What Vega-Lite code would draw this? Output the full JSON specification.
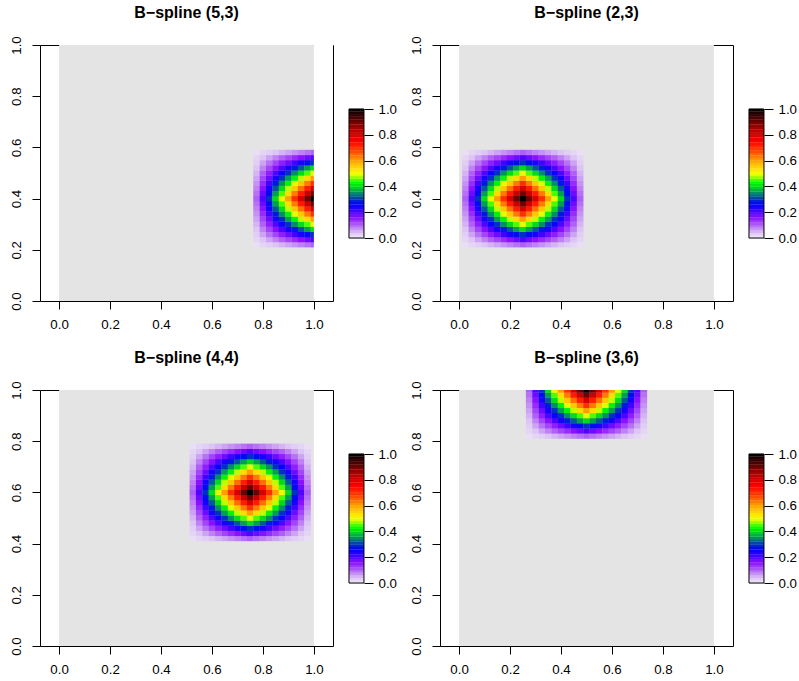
{
"$schema":"https://vega.github.io/schema/vega-lite/v6.json",
"padding":{"left":8,"top":4,"right":0,"bottom":0},
"config":{"font":"Liberation Sans","view":{"stroke":"black","strokeWidth":1},
"axis":{"grid":false,"domain":false,"tickColor":"black","labelColor":"black","labelFontSize":13.3,"labelFont":"Liberation Sans"},
"title":{"fontSize":16,"fontWeight":"bold","font":"Liberation Sans","color":"black","frame":"group","anchor":"middle","offset":15}},
"datasets":{
"bar":[{"v":0.01},{"v":0.03},{"v":0.05},{"v":0.07},{"v":0.09},{"v":0.11},{"v":0.13},{"v":0.15},{"v":0.17},{"v":0.19},{"v":0.21},{"v":0.23},{"v":0.25},{"v":0.27},{"v":0.29},{"v":0.31},{"v":0.33},{"v":0.35},{"v":0.37},{"v":0.39},{"v":0.41},{"v":0.43},{"v":0.45},{"v":0.47},{"v":0.49},{"v":0.51},{"v":0.53},{"v":0.55},{"v":0.57},{"v":0.59},{"v":0.61},{"v":0.63},{"v":0.65},{"v":0.67},{"v":0.69},{"v":0.71},{"v":0.73},{"v":0.75},{"v":0.77},{"v":0.79},{"v":0.81},{"v":0.83},{"v":0.85},{"v":0.87},{"v":0.89},{"v":0.91},{"v":0.93},{"v":0.95},{"v":0.97},{"v":0.99}],
"a":[
{"x":0.775,"y":0.22,"v":0.01},{"x":0.775,"y":0.24,"v":0.02},{"x":0.775,"y":0.26,"v":0.03},{"x":0.775,"y":0.28,"v":0.04},{"x":0.775,"y":0.3,"v":0.05},{"x":0.775,"y":0.32,"v":0.06},{"x":0.775,"y":0.34,"v":0.07},{"x":0.775,"y":0.36,"v":0.08},{"x":0.775,"y":0.38,"v":0.09},{"x":0.775,"y":0.4,"v":0.1},{"x":0.775,"y":0.42,"v":0.09},{"x":0.775,"y":0.44,"v":0.08},{"x":0.775,"y":0.46,"v":0.07},{"x":0.775,"y":0.48,"v":0.06},{"x":0.775,"y":0.5,"v":0.05},{"x":0.775,"y":0.52,"v":0.04},{"x":0.775,"y":0.54,"v":0.03},{"x":0.775,"y":0.56,"v":0.02},{"x":0.775,"y":0.58,"v":0.01},
{"x":0.8,"y":0.22,"v":0.02},{"x":0.8,"y":0.24,"v":0.04},{"x":0.8,"y":0.26,"v":0.06},{"x":0.8,"y":0.28,"v":0.08},{"x":0.8,"y":0.3,"v":0.1},{"x":0.8,"y":0.32,"v":0.12},{"x":0.8,"y":0.34,"v":0.14},{"x":0.8,"y":0.36,"v":0.16},{"x":0.8,"y":0.38,"v":0.18},{"x":0.8,"y":0.4,"v":0.2},{"x":0.8,"y":0.42,"v":0.18},{"x":0.8,"y":0.44,"v":0.16},{"x":0.8,"y":0.46,"v":0.14},{"x":0.8,"y":0.48,"v":0.12},{"x":0.8,"y":0.5,"v":0.1},{"x":0.8,"y":0.52,"v":0.08},{"x":0.8,"y":0.54,"v":0.06},{"x":0.8,"y":0.56,"v":0.04},{"x":0.8,"y":0.58,"v":0.02},
{"x":0.825,"y":0.22,"v":0.03},{"x":0.825,"y":0.24,"v":0.06},{"x":0.825,"y":0.26,"v":0.09},{"x":0.825,"y":0.28,"v":0.12},{"x":0.825,"y":0.3,"v":0.15},{"x":0.825,"y":0.32,"v":0.18},{"x":0.825,"y":0.34,"v":0.21},{"x":0.825,"y":0.36,"v":0.24},{"x":0.825,"y":0.38,"v":0.27},{"x":0.825,"y":0.4,"v":0.3},{"x":0.825,"y":0.42,"v":0.27},{"x":0.825,"y":0.44,"v":0.24},{"x":0.825,"y":0.46,"v":0.21},{"x":0.825,"y":0.48,"v":0.18},{"x":0.825,"y":0.5,"v":0.15},{"x":0.825,"y":0.52,"v":0.12},{"x":0.825,"y":0.54,"v":0.09},{"x":0.825,"y":0.56,"v":0.06},{"x":0.825,"y":0.58,"v":0.03},
{"x":0.85,"y":0.22,"v":0.04},{"x":0.85,"y":0.24,"v":0.08},{"x":0.85,"y":0.26,"v":0.12},{"x":0.85,"y":0.28,"v":0.16},{"x":0.85,"y":0.3,"v":0.2},{"x":0.85,"y":0.32,"v":0.24},{"x":0.85,"y":0.34,"v":0.28},{"x":0.85,"y":0.36,"v":0.32},{"x":0.85,"y":0.38,"v":0.36},{"x":0.85,"y":0.4,"v":0.4},{"x":0.85,"y":0.42,"v":0.36},{"x":0.85,"y":0.44,"v":0.32},{"x":0.85,"y":0.46,"v":0.28},{"x":0.85,"y":0.48,"v":0.24},{"x":0.85,"y":0.5,"v":0.2},{"x":0.85,"y":0.52,"v":0.16},{"x":0.85,"y":0.54,"v":0.12},{"x":0.85,"y":0.56,"v":0.08},{"x":0.85,"y":0.58,"v":0.04},
{"x":0.875,"y":0.22,"v":0.05},{"x":0.875,"y":0.24,"v":0.1},{"x":0.875,"y":0.26,"v":0.15},{"x":0.875,"y":0.28,"v":0.2},{"x":0.875,"y":0.3,"v":0.25},{"x":0.875,"y":0.32,"v":0.3},{"x":0.875,"y":0.34,"v":0.35},{"x":0.875,"y":0.36,"v":0.4},{"x":0.875,"y":0.38,"v":0.45},{"x":0.875,"y":0.4,"v":0.5},{"x":0.875,"y":0.42,"v":0.45},{"x":0.875,"y":0.44,"v":0.4},{"x":0.875,"y":0.46,"v":0.35},{"x":0.875,"y":0.48,"v":0.3},{"x":0.875,"y":0.5,"v":0.25},{"x":0.875,"y":0.52,"v":0.2},{"x":0.875,"y":0.54,"v":0.15},{"x":0.875,"y":0.56,"v":0.1},{"x":0.875,"y":0.58,"v":0.05},
{"x":0.9,"y":0.22,"v":0.06},{"x":0.9,"y":0.24,"v":0.12},{"x":0.9,"y":0.26,"v":0.18},{"x":0.9,"y":0.28,"v":0.24},{"x":0.9,"y":0.3,"v":0.3},{"x":0.9,"y":0.32,"v":0.36},{"x":0.9,"y":0.34,"v":0.42},{"x":0.9,"y":0.36,"v":0.48},{"x":0.9,"y":0.38,"v":0.54},{"x":0.9,"y":0.4,"v":0.6},{"x":0.9,"y":0.42,"v":0.54},{"x":0.9,"y":0.44,"v":0.48},{"x":0.9,"y":0.46,"v":0.42},{"x":0.9,"y":0.48,"v":0.36},{"x":0.9,"y":0.5,"v":0.3},{"x":0.9,"y":0.52,"v":0.24},{"x":0.9,"y":0.54,"v":0.18},{"x":0.9,"y":0.56,"v":0.12},{"x":0.9,"y":0.58,"v":0.06},
{"x":0.925,"y":0.22,"v":0.07},{"x":0.925,"y":0.24,"v":0.14},{"x":0.925,"y":0.26,"v":0.21},{"x":0.925,"y":0.28,"v":0.28},{"x":0.925,"y":0.3,"v":0.35},{"x":0.925,"y":0.32,"v":0.42},{"x":0.925,"y":0.34,"v":0.49},{"x":0.925,"y":0.36,"v":0.56},{"x":0.925,"y":0.38,"v":0.63},{"x":0.925,"y":0.4,"v":0.7},{"x":0.925,"y":0.42,"v":0.63},{"x":0.925,"y":0.44,"v":0.56},{"x":0.925,"y":0.46,"v":0.49},{"x":0.925,"y":0.48,"v":0.42},{"x":0.925,"y":0.5,"v":0.35},{"x":0.925,"y":0.52,"v":0.28},{"x":0.925,"y":0.54,"v":0.21},{"x":0.925,"y":0.56,"v":0.14},{"x":0.925,"y":0.58,"v":0.07},
{"x":0.95,"y":0.22,"v":0.08},{"x":0.95,"y":0.24,"v":0.16},{"x":0.95,"y":0.26,"v":0.24},{"x":0.95,"y":0.28,"v":0.32},{"x":0.95,"y":0.3,"v":0.4},{"x":0.95,"y":0.32,"v":0.48},{"x":0.95,"y":0.34,"v":0.56},{"x":0.95,"y":0.36,"v":0.64},{"x":0.95,"y":0.38,"v":0.72},{"x":0.95,"y":0.4,"v":0.8},{"x":0.95,"y":0.42,"v":0.72},{"x":0.95,"y":0.44,"v":0.64},{"x":0.95,"y":0.46,"v":0.56},{"x":0.95,"y":0.48,"v":0.48},{"x":0.95,"y":0.5,"v":0.4},{"x":0.95,"y":0.52,"v":0.32},{"x":0.95,"y":0.54,"v":0.24},{"x":0.95,"y":0.56,"v":0.16},{"x":0.95,"y":0.58,"v":0.08},
{"x":0.975,"y":0.22,"v":0.09},{"x":0.975,"y":0.24,"v":0.18},{"x":0.975,"y":0.26,"v":0.27},{"x":0.975,"y":0.28,"v":0.36},{"x":0.975,"y":0.3,"v":0.45},{"x":0.975,"y":0.32,"v":0.54},{"x":0.975,"y":0.34,"v":0.63},{"x":0.975,"y":0.36,"v":0.72},{"x":0.975,"y":0.38,"v":0.81},{"x":0.975,"y":0.4,"v":0.9},{"x":0.975,"y":0.42,"v":0.81},{"x":0.975,"y":0.44,"v":0.72},{"x":0.975,"y":0.46,"v":0.63},{"x":0.975,"y":0.48,"v":0.54},{"x":0.975,"y":0.5,"v":0.45},{"x":0.975,"y":0.52,"v":0.36},{"x":0.975,"y":0.54,"v":0.27},{"x":0.975,"y":0.56,"v":0.18},{"x":0.975,"y":0.58,"v":0.09},
{"x":1,"y":0.22,"v":0.1},{"x":1,"y":0.24,"v":0.2},{"x":1,"y":0.26,"v":0.3},{"x":1,"y":0.28,"v":0.4},{"x":1,"y":0.3,"v":0.5},{"x":1,"y":0.32,"v":0.6},{"x":1,"y":0.34,"v":0.7},{"x":1,"y":0.36,"v":0.8},{"x":1,"y":0.38,"v":0.9},{"x":1,"y":0.4,"v":1},{"x":1,"y":0.42,"v":0.9},{"x":1,"y":0.44,"v":0.8},{"x":1,"y":0.46,"v":0.7},{"x":1,"y":0.48,"v":0.6},{"x":1,"y":0.5,"v":0.5},{"x":1,"y":0.52,"v":0.4},{"x":1,"y":0.54,"v":0.3},{"x":1,"y":0.56,"v":0.2},{"x":1,"y":0.58,"v":0.1}
],
"b":[
{"x":0.025,"y":0.22,"v":0.01},{"x":0.025,"y":0.24,"v":0.02},{"x":0.025,"y":0.26,"v":0.03},{"x":0.025,"y":0.28,"v":0.04},{"x":0.025,"y":0.3,"v":0.05},{"x":0.025,"y":0.32,"v":0.06},{"x":0.025,"y":0.34,"v":0.07},{"x":0.025,"y":0.36,"v":0.08},{"x":0.025,"y":0.38,"v":0.09},{"x":0.025,"y":0.4,"v":0.1},{"x":0.025,"y":0.42,"v":0.09},{"x":0.025,"y":0.44,"v":0.08},{"x":0.025,"y":0.46,"v":0.07},{"x":0.025,"y":0.48,"v":0.06},{"x":0.025,"y":0.5,"v":0.05},{"x":0.025,"y":0.52,"v":0.04},{"x":0.025,"y":0.54,"v":0.03},{"x":0.025,"y":0.56,"v":0.02},{"x":0.025,"y":0.58,"v":0.01},
{"x":0.05,"y":0.22,"v":0.02},{"x":0.05,"y":0.24,"v":0.04},{"x":0.05,"y":0.26,"v":0.06},{"x":0.05,"y":0.28,"v":0.08},{"x":0.05,"y":0.3,"v":0.1},{"x":0.05,"y":0.32,"v":0.12},{"x":0.05,"y":0.34,"v":0.14},{"x":0.05,"y":0.36,"v":0.16},{"x":0.05,"y":0.38,"v":0.18},{"x":0.05,"y":0.4,"v":0.2},{"x":0.05,"y":0.42,"v":0.18},{"x":0.05,"y":0.44,"v":0.16},{"x":0.05,"y":0.46,"v":0.14},{"x":0.05,"y":0.48,"v":0.12},{"x":0.05,"y":0.5,"v":0.1},{"x":0.05,"y":0.52,"v":0.08},{"x":0.05,"y":0.54,"v":0.06},{"x":0.05,"y":0.56,"v":0.04},{"x":0.05,"y":0.58,"v":0.02},
{"x":0.075,"y":0.22,"v":0.03},{"x":0.075,"y":0.24,"v":0.06},{"x":0.075,"y":0.26,"v":0.09},{"x":0.075,"y":0.28,"v":0.12},{"x":0.075,"y":0.3,"v":0.15},{"x":0.075,"y":0.32,"v":0.18},{"x":0.075,"y":0.34,"v":0.21},{"x":0.075,"y":0.36,"v":0.24},{"x":0.075,"y":0.38,"v":0.27},{"x":0.075,"y":0.4,"v":0.3},{"x":0.075,"y":0.42,"v":0.27},{"x":0.075,"y":0.44,"v":0.24},{"x":0.075,"y":0.46,"v":0.21},{"x":0.075,"y":0.48,"v":0.18},{"x":0.075,"y":0.5,"v":0.15},{"x":0.075,"y":0.52,"v":0.12},{"x":0.075,"y":0.54,"v":0.09},{"x":0.075,"y":0.56,"v":0.06},{"x":0.075,"y":0.58,"v":0.03},
{"x":0.1,"y":0.22,"v":0.04},{"x":0.1,"y":0.24,"v":0.08},{"x":0.1,"y":0.26,"v":0.12},{"x":0.1,"y":0.28,"v":0.16},{"x":0.1,"y":0.3,"v":0.2},{"x":0.1,"y":0.32,"v":0.24},{"x":0.1,"y":0.34,"v":0.28},{"x":0.1,"y":0.36,"v":0.32},{"x":0.1,"y":0.38,"v":0.36},{"x":0.1,"y":0.4,"v":0.4},{"x":0.1,"y":0.42,"v":0.36},{"x":0.1,"y":0.44,"v":0.32},{"x":0.1,"y":0.46,"v":0.28},{"x":0.1,"y":0.48,"v":0.24},{"x":0.1,"y":0.5,"v":0.2},{"x":0.1,"y":0.52,"v":0.16},{"x":0.1,"y":0.54,"v":0.12},{"x":0.1,"y":0.56,"v":0.08},{"x":0.1,"y":0.58,"v":0.04},
{"x":0.125,"y":0.22,"v":0.05},{"x":0.125,"y":0.24,"v":0.1},{"x":0.125,"y":0.26,"v":0.15},{"x":0.125,"y":0.28,"v":0.2},{"x":0.125,"y":0.3,"v":0.25},{"x":0.125,"y":0.32,"v":0.3},{"x":0.125,"y":0.34,"v":0.35},{"x":0.125,"y":0.36,"v":0.4},{"x":0.125,"y":0.38,"v":0.45},{"x":0.125,"y":0.4,"v":0.5},{"x":0.125,"y":0.42,"v":0.45},{"x":0.125,"y":0.44,"v":0.4},{"x":0.125,"y":0.46,"v":0.35},{"x":0.125,"y":0.48,"v":0.3},{"x":0.125,"y":0.5,"v":0.25},{"x":0.125,"y":0.52,"v":0.2},{"x":0.125,"y":0.54,"v":0.15},{"x":0.125,"y":0.56,"v":0.1},{"x":0.125,"y":0.58,"v":0.05},
{"x":0.15,"y":0.22,"v":0.06},{"x":0.15,"y":0.24,"v":0.12},{"x":0.15,"y":0.26,"v":0.18},{"x":0.15,"y":0.28,"v":0.24},{"x":0.15,"y":0.3,"v":0.3},{"x":0.15,"y":0.32,"v":0.36},{"x":0.15,"y":0.34,"v":0.42},{"x":0.15,"y":0.36,"v":0.48},{"x":0.15,"y":0.38,"v":0.54},{"x":0.15,"y":0.4,"v":0.6},{"x":0.15,"y":0.42,"v":0.54},{"x":0.15,"y":0.44,"v":0.48},{"x":0.15,"y":0.46,"v":0.42},{"x":0.15,"y":0.48,"v":0.36},{"x":0.15,"y":0.5,"v":0.3},{"x":0.15,"y":0.52,"v":0.24},{"x":0.15,"y":0.54,"v":0.18},{"x":0.15,"y":0.56,"v":0.12},{"x":0.15,"y":0.58,"v":0.06},
{"x":0.175,"y":0.22,"v":0.07},{"x":0.175,"y":0.24,"v":0.14},{"x":0.175,"y":0.26,"v":0.21},{"x":0.175,"y":0.28,"v":0.28},{"x":0.175,"y":0.3,"v":0.35},{"x":0.175,"y":0.32,"v":0.42},{"x":0.175,"y":0.34,"v":0.49},{"x":0.175,"y":0.36,"v":0.56},{"x":0.175,"y":0.38,"v":0.63},{"x":0.175,"y":0.4,"v":0.7},{"x":0.175,"y":0.42,"v":0.63},{"x":0.175,"y":0.44,"v":0.56},{"x":0.175,"y":0.46,"v":0.49},{"x":0.175,"y":0.48,"v":0.42},{"x":0.175,"y":0.5,"v":0.35},{"x":0.175,"y":0.52,"v":0.28},{"x":0.175,"y":0.54,"v":0.21},{"x":0.175,"y":0.56,"v":0.14},{"x":0.175,"y":0.58,"v":0.07},
{"x":0.2,"y":0.22,"v":0.08},{"x":0.2,"y":0.24,"v":0.16},{"x":0.2,"y":0.26,"v":0.24},{"x":0.2,"y":0.28,"v":0.32},{"x":0.2,"y":0.3,"v":0.4},{"x":0.2,"y":0.32,"v":0.48},{"x":0.2,"y":0.34,"v":0.56},{"x":0.2,"y":0.36,"v":0.64},{"x":0.2,"y":0.38,"v":0.72},{"x":0.2,"y":0.4,"v":0.8},{"x":0.2,"y":0.42,"v":0.72},{"x":0.2,"y":0.44,"v":0.64},{"x":0.2,"y":0.46,"v":0.56},{"x":0.2,"y":0.48,"v":0.48},{"x":0.2,"y":0.5,"v":0.4},{"x":0.2,"y":0.52,"v":0.32},{"x":0.2,"y":0.54,"v":0.24},{"x":0.2,"y":0.56,"v":0.16},{"x":0.2,"y":0.58,"v":0.08},
{"x":0.225,"y":0.22,"v":0.09},{"x":0.225,"y":0.24,"v":0.18},{"x":0.225,"y":0.26,"v":0.27},{"x":0.225,"y":0.28,"v":0.36},{"x":0.225,"y":0.3,"v":0.45},{"x":0.225,"y":0.32,"v":0.54},{"x":0.225,"y":0.34,"v":0.63},{"x":0.225,"y":0.36,"v":0.72},{"x":0.225,"y":0.38,"v":0.81},{"x":0.225,"y":0.4,"v":0.9},{"x":0.225,"y":0.42,"v":0.81},{"x":0.225,"y":0.44,"v":0.72},{"x":0.225,"y":0.46,"v":0.63},{"x":0.225,"y":0.48,"v":0.54},{"x":0.225,"y":0.5,"v":0.45},{"x":0.225,"y":0.52,"v":0.36},{"x":0.225,"y":0.54,"v":0.27},{"x":0.225,"y":0.56,"v":0.18},{"x":0.225,"y":0.58,"v":0.09},
{"x":0.25,"y":0.22,"v":0.1},{"x":0.25,"y":0.24,"v":0.2},{"x":0.25,"y":0.26,"v":0.3},{"x":0.25,"y":0.28,"v":0.4},{"x":0.25,"y":0.3,"v":0.5},{"x":0.25,"y":0.32,"v":0.6},{"x":0.25,"y":0.34,"v":0.7},{"x":0.25,"y":0.36,"v":0.8},{"x":0.25,"y":0.38,"v":0.9},{"x":0.25,"y":0.4,"v":1},{"x":0.25,"y":0.42,"v":0.9},{"x":0.25,"y":0.44,"v":0.8},{"x":0.25,"y":0.46,"v":0.7},{"x":0.25,"y":0.48,"v":0.6},{"x":0.25,"y":0.5,"v":0.5},{"x":0.25,"y":0.52,"v":0.4},{"x":0.25,"y":0.54,"v":0.3},{"x":0.25,"y":0.56,"v":0.2},{"x":0.25,"y":0.58,"v":0.1},
{"x":0.275,"y":0.22,"v":0.09},{"x":0.275,"y":0.24,"v":0.18},{"x":0.275,"y":0.26,"v":0.27},{"x":0.275,"y":0.28,"v":0.36},{"x":0.275,"y":0.3,"v":0.45},{"x":0.275,"y":0.32,"v":0.54},{"x":0.275,"y":0.34,"v":0.63},{"x":0.275,"y":0.36,"v":0.72},{"x":0.275,"y":0.38,"v":0.81},{"x":0.275,"y":0.4,"v":0.9},{"x":0.275,"y":0.42,"v":0.81},{"x":0.275,"y":0.44,"v":0.72},{"x":0.275,"y":0.46,"v":0.63},{"x":0.275,"y":0.48,"v":0.54},{"x":0.275,"y":0.5,"v":0.45},{"x":0.275,"y":0.52,"v":0.36},{"x":0.275,"y":0.54,"v":0.27},{"x":0.275,"y":0.56,"v":0.18},{"x":0.275,"y":0.58,"v":0.09},
{"x":0.3,"y":0.22,"v":0.08},{"x":0.3,"y":0.24,"v":0.16},{"x":0.3,"y":0.26,"v":0.24},{"x":0.3,"y":0.28,"v":0.32},{"x":0.3,"y":0.3,"v":0.4},{"x":0.3,"y":0.32,"v":0.48},{"x":0.3,"y":0.34,"v":0.56},{"x":0.3,"y":0.36,"v":0.64},{"x":0.3,"y":0.38,"v":0.72},{"x":0.3,"y":0.4,"v":0.8},{"x":0.3,"y":0.42,"v":0.72},{"x":0.3,"y":0.44,"v":0.64},{"x":0.3,"y":0.46,"v":0.56},{"x":0.3,"y":0.48,"v":0.48},{"x":0.3,"y":0.5,"v":0.4},{"x":0.3,"y":0.52,"v":0.32},{"x":0.3,"y":0.54,"v":0.24},{"x":0.3,"y":0.56,"v":0.16},{"x":0.3,"y":0.58,"v":0.08},
{"x":0.325,"y":0.22,"v":0.07},{"x":0.325,"y":0.24,"v":0.14},{"x":0.325,"y":0.26,"v":0.21},{"x":0.325,"y":0.28,"v":0.28},{"x":0.325,"y":0.3,"v":0.35},{"x":0.325,"y":0.32,"v":0.42},{"x":0.325,"y":0.34,"v":0.49},{"x":0.325,"y":0.36,"v":0.56},{"x":0.325,"y":0.38,"v":0.63},{"x":0.325,"y":0.4,"v":0.7},{"x":0.325,"y":0.42,"v":0.63},{"x":0.325,"y":0.44,"v":0.56},{"x":0.325,"y":0.46,"v":0.49},{"x":0.325,"y":0.48,"v":0.42},{"x":0.325,"y":0.5,"v":0.35},{"x":0.325,"y":0.52,"v":0.28},{"x":0.325,"y":0.54,"v":0.21},{"x":0.325,"y":0.56,"v":0.14},{"x":0.325,"y":0.58,"v":0.07},
{"x":0.35,"y":0.22,"v":0.06},{"x":0.35,"y":0.24,"v":0.12},{"x":0.35,"y":0.26,"v":0.18},{"x":0.35,"y":0.28,"v":0.24},{"x":0.35,"y":0.3,"v":0.3},{"x":0.35,"y":0.32,"v":0.36},{"x":0.35,"y":0.34,"v":0.42},{"x":0.35,"y":0.36,"v":0.48},{"x":0.35,"y":0.38,"v":0.54},{"x":0.35,"y":0.4,"v":0.6},{"x":0.35,"y":0.42,"v":0.54},{"x":0.35,"y":0.44,"v":0.48},{"x":0.35,"y":0.46,"v":0.42},{"x":0.35,"y":0.48,"v":0.36},{"x":0.35,"y":0.5,"v":0.3},{"x":0.35,"y":0.52,"v":0.24},{"x":0.35,"y":0.54,"v":0.18},{"x":0.35,"y":0.56,"v":0.12},{"x":0.35,"y":0.58,"v":0.06},
{"x":0.375,"y":0.22,"v":0.05},{"x":0.375,"y":0.24,"v":0.1},{"x":0.375,"y":0.26,"v":0.15},{"x":0.375,"y":0.28,"v":0.2},{"x":0.375,"y":0.3,"v":0.25},{"x":0.375,"y":0.32,"v":0.3},{"x":0.375,"y":0.34,"v":0.35},{"x":0.375,"y":0.36,"v":0.4},{"x":0.375,"y":0.38,"v":0.45},{"x":0.375,"y":0.4,"v":0.5},{"x":0.375,"y":0.42,"v":0.45},{"x":0.375,"y":0.44,"v":0.4},{"x":0.375,"y":0.46,"v":0.35},{"x":0.375,"y":0.48,"v":0.3},{"x":0.375,"y":0.5,"v":0.25},{"x":0.375,"y":0.52,"v":0.2},{"x":0.375,"y":0.54,"v":0.15},{"x":0.375,"y":0.56,"v":0.1},{"x":0.375,"y":0.58,"v":0.05},
{"x":0.4,"y":0.22,"v":0.04},{"x":0.4,"y":0.24,"v":0.08},{"x":0.4,"y":0.26,"v":0.12},{"x":0.4,"y":0.28,"v":0.16},{"x":0.4,"y":0.3,"v":0.2},{"x":0.4,"y":0.32,"v":0.24},{"x":0.4,"y":0.34,"v":0.28},{"x":0.4,"y":0.36,"v":0.32},{"x":0.4,"y":0.38,"v":0.36},{"x":0.4,"y":0.4,"v":0.4},{"x":0.4,"y":0.42,"v":0.36},{"x":0.4,"y":0.44,"v":0.32},{"x":0.4,"y":0.46,"v":0.28},{"x":0.4,"y":0.48,"v":0.24},{"x":0.4,"y":0.5,"v":0.2},{"x":0.4,"y":0.52,"v":0.16},{"x":0.4,"y":0.54,"v":0.12},{"x":0.4,"y":0.56,"v":0.08},{"x":0.4,"y":0.58,"v":0.04},
{"x":0.425,"y":0.22,"v":0.03},{"x":0.425,"y":0.24,"v":0.06},{"x":0.425,"y":0.26,"v":0.09},{"x":0.425,"y":0.28,"v":0.12},{"x":0.425,"y":0.3,"v":0.15},{"x":0.425,"y":0.32,"v":0.18},{"x":0.425,"y":0.34,"v":0.21},{"x":0.425,"y":0.36,"v":0.24},{"x":0.425,"y":0.38,"v":0.27},{"x":0.425,"y":0.4,"v":0.3},{"x":0.425,"y":0.42,"v":0.27},{"x":0.425,"y":0.44,"v":0.24},{"x":0.425,"y":0.46,"v":0.21},{"x":0.425,"y":0.48,"v":0.18},{"x":0.425,"y":0.5,"v":0.15},{"x":0.425,"y":0.52,"v":0.12},{"x":0.425,"y":0.54,"v":0.09},{"x":0.425,"y":0.56,"v":0.06},{"x":0.425,"y":0.58,"v":0.03},
{"x":0.45,"y":0.22,"v":0.02},{"x":0.45,"y":0.24,"v":0.04},{"x":0.45,"y":0.26,"v":0.06},{"x":0.45,"y":0.28,"v":0.08},{"x":0.45,"y":0.3,"v":0.1},{"x":0.45,"y":0.32,"v":0.12},{"x":0.45,"y":0.34,"v":0.14},{"x":0.45,"y":0.36,"v":0.16},{"x":0.45,"y":0.38,"v":0.18},{"x":0.45,"y":0.4,"v":0.2},{"x":0.45,"y":0.42,"v":0.18},{"x":0.45,"y":0.44,"v":0.16},{"x":0.45,"y":0.46,"v":0.14},{"x":0.45,"y":0.48,"v":0.12},{"x":0.45,"y":0.5,"v":0.1},{"x":0.45,"y":0.52,"v":0.08},{"x":0.45,"y":0.54,"v":0.06},{"x":0.45,"y":0.56,"v":0.04},{"x":0.45,"y":0.58,"v":0.02},
{"x":0.475,"y":0.22,"v":0.01},{"x":0.475,"y":0.24,"v":0.02},{"x":0.475,"y":0.26,"v":0.03},{"x":0.475,"y":0.28,"v":0.04},{"x":0.475,"y":0.3,"v":0.05},{"x":0.475,"y":0.32,"v":0.06},{"x":0.475,"y":0.34,"v":0.07},{"x":0.475,"y":0.36,"v":0.08},{"x":0.475,"y":0.38,"v":0.09},{"x":0.475,"y":0.4,"v":0.1},{"x":0.475,"y":0.42,"v":0.09},{"x":0.475,"y":0.44,"v":0.08},{"x":0.475,"y":0.46,"v":0.07},{"x":0.475,"y":0.48,"v":0.06},{"x":0.475,"y":0.5,"v":0.05},{"x":0.475,"y":0.52,"v":0.04},{"x":0.475,"y":0.54,"v":0.03},{"x":0.475,"y":0.56,"v":0.02},{"x":0.475,"y":0.58,"v":0.01}
],
"c":[
{"x":0.525,"y":0.42,"v":0.01},{"x":0.525,"y":0.44,"v":0.02},{"x":0.525,"y":0.46,"v":0.03},{"x":0.525,"y":0.48,"v":0.04},{"x":0.525,"y":0.5,"v":0.05},{"x":0.525,"y":0.52,"v":0.06},{"x":0.525,"y":0.54,"v":0.07},{"x":0.525,"y":0.56,"v":0.08},{"x":0.525,"y":0.58,"v":0.09},{"x":0.525,"y":0.6,"v":0.1},{"x":0.525,"y":0.62,"v":0.09},{"x":0.525,"y":0.64,"v":0.08},{"x":0.525,"y":0.66,"v":0.07},{"x":0.525,"y":0.68,"v":0.06},{"x":0.525,"y":0.7,"v":0.05},{"x":0.525,"y":0.72,"v":0.04},{"x":0.525,"y":0.74,"v":0.03},{"x":0.525,"y":0.76,"v":0.02},{"x":0.525,"y":0.78,"v":0.01},
{"x":0.55,"y":0.42,"v":0.02},{"x":0.55,"y":0.44,"v":0.04},{"x":0.55,"y":0.46,"v":0.06},{"x":0.55,"y":0.48,"v":0.08},{"x":0.55,"y":0.5,"v":0.1},{"x":0.55,"y":0.52,"v":0.12},{"x":0.55,"y":0.54,"v":0.14},{"x":0.55,"y":0.56,"v":0.16},{"x":0.55,"y":0.58,"v":0.18},{"x":0.55,"y":0.6,"v":0.2},{"x":0.55,"y":0.62,"v":0.18},{"x":0.55,"y":0.64,"v":0.16},{"x":0.55,"y":0.66,"v":0.14},{"x":0.55,"y":0.68,"v":0.12},{"x":0.55,"y":0.7,"v":0.1},{"x":0.55,"y":0.72,"v":0.08},{"x":0.55,"y":0.74,"v":0.06},{"x":0.55,"y":0.76,"v":0.04},{"x":0.55,"y":0.78,"v":0.02},
{"x":0.575,"y":0.42,"v":0.03},{"x":0.575,"y":0.44,"v":0.06},{"x":0.575,"y":0.46,"v":0.09},{"x":0.575,"y":0.48,"v":0.12},{"x":0.575,"y":0.5,"v":0.15},{"x":0.575,"y":0.52,"v":0.18},{"x":0.575,"y":0.54,"v":0.21},{"x":0.575,"y":0.56,"v":0.24},{"x":0.575,"y":0.58,"v":0.27},{"x":0.575,"y":0.6,"v":0.3},{"x":0.575,"y":0.62,"v":0.27},{"x":0.575,"y":0.64,"v":0.24},{"x":0.575,"y":0.66,"v":0.21},{"x":0.575,"y":0.68,"v":0.18},{"x":0.575,"y":0.7,"v":0.15},{"x":0.575,"y":0.72,"v":0.12},{"x":0.575,"y":0.74,"v":0.09},{"x":0.575,"y":0.76,"v":0.06},{"x":0.575,"y":0.78,"v":0.03},
{"x":0.6,"y":0.42,"v":0.04},{"x":0.6,"y":0.44,"v":0.08},{"x":0.6,"y":0.46,"v":0.12},{"x":0.6,"y":0.48,"v":0.16},{"x":0.6,"y":0.5,"v":0.2},{"x":0.6,"y":0.52,"v":0.24},{"x":0.6,"y":0.54,"v":0.28},{"x":0.6,"y":0.56,"v":0.32},{"x":0.6,"y":0.58,"v":0.36},{"x":0.6,"y":0.6,"v":0.4},{"x":0.6,"y":0.62,"v":0.36},{"x":0.6,"y":0.64,"v":0.32},{"x":0.6,"y":0.66,"v":0.28},{"x":0.6,"y":0.68,"v":0.24},{"x":0.6,"y":0.7,"v":0.2},{"x":0.6,"y":0.72,"v":0.16},{"x":0.6,"y":0.74,"v":0.12},{"x":0.6,"y":0.76,"v":0.08},{"x":0.6,"y":0.78,"v":0.04},
{"x":0.625,"y":0.42,"v":0.05},{"x":0.625,"y":0.44,"v":0.1},{"x":0.625,"y":0.46,"v":0.15},{"x":0.625,"y":0.48,"v":0.2},{"x":0.625,"y":0.5,"v":0.25},{"x":0.625,"y":0.52,"v":0.3},{"x":0.625,"y":0.54,"v":0.35},{"x":0.625,"y":0.56,"v":0.4},{"x":0.625,"y":0.58,"v":0.45},{"x":0.625,"y":0.6,"v":0.5},{"x":0.625,"y":0.62,"v":0.45},{"x":0.625,"y":0.64,"v":0.4},{"x":0.625,"y":0.66,"v":0.35},{"x":0.625,"y":0.68,"v":0.3},{"x":0.625,"y":0.7,"v":0.25},{"x":0.625,"y":0.72,"v":0.2},{"x":0.625,"y":0.74,"v":0.15},{"x":0.625,"y":0.76,"v":0.1},{"x":0.625,"y":0.78,"v":0.05},
{"x":0.65,"y":0.42,"v":0.06},{"x":0.65,"y":0.44,"v":0.12},{"x":0.65,"y":0.46,"v":0.18},{"x":0.65,"y":0.48,"v":0.24},{"x":0.65,"y":0.5,"v":0.3},{"x":0.65,"y":0.52,"v":0.36},{"x":0.65,"y":0.54,"v":0.42},{"x":0.65,"y":0.56,"v":0.48},{"x":0.65,"y":0.58,"v":0.54},{"x":0.65,"y":0.6,"v":0.6},{"x":0.65,"y":0.62,"v":0.54},{"x":0.65,"y":0.64,"v":0.48},{"x":0.65,"y":0.66,"v":0.42},{"x":0.65,"y":0.68,"v":0.36},{"x":0.65,"y":0.7,"v":0.3},{"x":0.65,"y":0.72,"v":0.24},{"x":0.65,"y":0.74,"v":0.18},{"x":0.65,"y":0.76,"v":0.12},{"x":0.65,"y":0.78,"v":0.06},
{"x":0.675,"y":0.42,"v":0.07},{"x":0.675,"y":0.44,"v":0.14},{"x":0.675,"y":0.46,"v":0.21},{"x":0.675,"y":0.48,"v":0.28},{"x":0.675,"y":0.5,"v":0.35},{"x":0.675,"y":0.52,"v":0.42},{"x":0.675,"y":0.54,"v":0.49},{"x":0.675,"y":0.56,"v":0.56},{"x":0.675,"y":0.58,"v":0.63},{"x":0.675,"y":0.6,"v":0.7},{"x":0.675,"y":0.62,"v":0.63},{"x":0.675,"y":0.64,"v":0.56},{"x":0.675,"y":0.66,"v":0.49},{"x":0.675,"y":0.68,"v":0.42},{"x":0.675,"y":0.7,"v":0.35},{"x":0.675,"y":0.72,"v":0.28},{"x":0.675,"y":0.74,"v":0.21},{"x":0.675,"y":0.76,"v":0.14},{"x":0.675,"y":0.78,"v":0.07},
{"x":0.7,"y":0.42,"v":0.08},{"x":0.7,"y":0.44,"v":0.16},{"x":0.7,"y":0.46,"v":0.24},{"x":0.7,"y":0.48,"v":0.32},{"x":0.7,"y":0.5,"v":0.4},{"x":0.7,"y":0.52,"v":0.48},{"x":0.7,"y":0.54,"v":0.56},{"x":0.7,"y":0.56,"v":0.64},{"x":0.7,"y":0.58,"v":0.72},{"x":0.7,"y":0.6,"v":0.8},{"x":0.7,"y":0.62,"v":0.72},{"x":0.7,"y":0.64,"v":0.64},{"x":0.7,"y":0.66,"v":0.56},{"x":0.7,"y":0.68,"v":0.48},{"x":0.7,"y":0.7,"v":0.4},{"x":0.7,"y":0.72,"v":0.32},{"x":0.7,"y":0.74,"v":0.24},{"x":0.7,"y":0.76,"v":0.16},{"x":0.7,"y":0.78,"v":0.08},
{"x":0.725,"y":0.42,"v":0.09},{"x":0.725,"y":0.44,"v":0.18},{"x":0.725,"y":0.46,"v":0.27},{"x":0.725,"y":0.48,"v":0.36},{"x":0.725,"y":0.5,"v":0.45},{"x":0.725,"y":0.52,"v":0.54},{"x":0.725,"y":0.54,"v":0.63},{"x":0.725,"y":0.56,"v":0.72},{"x":0.725,"y":0.58,"v":0.81},{"x":0.725,"y":0.6,"v":0.9},{"x":0.725,"y":0.62,"v":0.81},{"x":0.725,"y":0.64,"v":0.72},{"x":0.725,"y":0.66,"v":0.63},{"x":0.725,"y":0.68,"v":0.54},{"x":0.725,"y":0.7,"v":0.45},{"x":0.725,"y":0.72,"v":0.36},{"x":0.725,"y":0.74,"v":0.27},{"x":0.725,"y":0.76,"v":0.18},{"x":0.725,"y":0.78,"v":0.09},
{"x":0.75,"y":0.42,"v":0.1},{"x":0.75,"y":0.44,"v":0.2},{"x":0.75,"y":0.46,"v":0.3},{"x":0.75,"y":0.48,"v":0.4},{"x":0.75,"y":0.5,"v":0.5},{"x":0.75,"y":0.52,"v":0.6},{"x":0.75,"y":0.54,"v":0.7},{"x":0.75,"y":0.56,"v":0.8},{"x":0.75,"y":0.58,"v":0.9},{"x":0.75,"y":0.6,"v":1},{"x":0.75,"y":0.62,"v":0.9},{"x":0.75,"y":0.64,"v":0.8},{"x":0.75,"y":0.66,"v":0.7},{"x":0.75,"y":0.68,"v":0.6},{"x":0.75,"y":0.7,"v":0.5},{"x":0.75,"y":0.72,"v":0.4},{"x":0.75,"y":0.74,"v":0.3},{"x":0.75,"y":0.76,"v":0.2},{"x":0.75,"y":0.78,"v":0.1},
{"x":0.775,"y":0.42,"v":0.09},{"x":0.775,"y":0.44,"v":0.18},{"x":0.775,"y":0.46,"v":0.27},{"x":0.775,"y":0.48,"v":0.36},{"x":0.775,"y":0.5,"v":0.45},{"x":0.775,"y":0.52,"v":0.54},{"x":0.775,"y":0.54,"v":0.63},{"x":0.775,"y":0.56,"v":0.72},{"x":0.775,"y":0.58,"v":0.81},{"x":0.775,"y":0.6,"v":0.9},{"x":0.775,"y":0.62,"v":0.81},{"x":0.775,"y":0.64,"v":0.72},{"x":0.775,"y":0.66,"v":0.63},{"x":0.775,"y":0.68,"v":0.54},{"x":0.775,"y":0.7,"v":0.45},{"x":0.775,"y":0.72,"v":0.36},{"x":0.775,"y":0.74,"v":0.27},{"x":0.775,"y":0.76,"v":0.18},{"x":0.775,"y":0.78,"v":0.09},
{"x":0.8,"y":0.42,"v":0.08},{"x":0.8,"y":0.44,"v":0.16},{"x":0.8,"y":0.46,"v":0.24},{"x":0.8,"y":0.48,"v":0.32},{"x":0.8,"y":0.5,"v":0.4},{"x":0.8,"y":0.52,"v":0.48},{"x":0.8,"y":0.54,"v":0.56},{"x":0.8,"y":0.56,"v":0.64},{"x":0.8,"y":0.58,"v":0.72},{"x":0.8,"y":0.6,"v":0.8},{"x":0.8,"y":0.62,"v":0.72},{"x":0.8,"y":0.64,"v":0.64},{"x":0.8,"y":0.66,"v":0.56},{"x":0.8,"y":0.68,"v":0.48},{"x":0.8,"y":0.7,"v":0.4},{"x":0.8,"y":0.72,"v":0.32},{"x":0.8,"y":0.74,"v":0.24},{"x":0.8,"y":0.76,"v":0.16},{"x":0.8,"y":0.78,"v":0.08},
{"x":0.825,"y":0.42,"v":0.07},{"x":0.825,"y":0.44,"v":0.14},{"x":0.825,"y":0.46,"v":0.21},{"x":0.825,"y":0.48,"v":0.28},{"x":0.825,"y":0.5,"v":0.35},{"x":0.825,"y":0.52,"v":0.42},{"x":0.825,"y":0.54,"v":0.49},{"x":0.825,"y":0.56,"v":0.56},{"x":0.825,"y":0.58,"v":0.63},{"x":0.825,"y":0.6,"v":0.7},{"x":0.825,"y":0.62,"v":0.63},{"x":0.825,"y":0.64,"v":0.56},{"x":0.825,"y":0.66,"v":0.49},{"x":0.825,"y":0.68,"v":0.42},{"x":0.825,"y":0.7,"v":0.35},{"x":0.825,"y":0.72,"v":0.28},{"x":0.825,"y":0.74,"v":0.21},{"x":0.825,"y":0.76,"v":0.14},{"x":0.825,"y":0.78,"v":0.07},
{"x":0.85,"y":0.42,"v":0.06},{"x":0.85,"y":0.44,"v":0.12},{"x":0.85,"y":0.46,"v":0.18},{"x":0.85,"y":0.48,"v":0.24},{"x":0.85,"y":0.5,"v":0.3},{"x":0.85,"y":0.52,"v":0.36},{"x":0.85,"y":0.54,"v":0.42},{"x":0.85,"y":0.56,"v":0.48},{"x":0.85,"y":0.58,"v":0.54},{"x":0.85,"y":0.6,"v":0.6},{"x":0.85,"y":0.62,"v":0.54},{"x":0.85,"y":0.64,"v":0.48},{"x":0.85,"y":0.66,"v":0.42},{"x":0.85,"y":0.68,"v":0.36},{"x":0.85,"y":0.7,"v":0.3},{"x":0.85,"y":0.72,"v":0.24},{"x":0.85,"y":0.74,"v":0.18},{"x":0.85,"y":0.76,"v":0.12},{"x":0.85,"y":0.78,"v":0.06},
{"x":0.875,"y":0.42,"v":0.05},{"x":0.875,"y":0.44,"v":0.1},{"x":0.875,"y":0.46,"v":0.15},{"x":0.875,"y":0.48,"v":0.2},{"x":0.875,"y":0.5,"v":0.25},{"x":0.875,"y":0.52,"v":0.3},{"x":0.875,"y":0.54,"v":0.35},{"x":0.875,"y":0.56,"v":0.4},{"x":0.875,"y":0.58,"v":0.45},{"x":0.875,"y":0.6,"v":0.5},{"x":0.875,"y":0.62,"v":0.45},{"x":0.875,"y":0.64,"v":0.4},{"x":0.875,"y":0.66,"v":0.35},{"x":0.875,"y":0.68,"v":0.3},{"x":0.875,"y":0.7,"v":0.25},{"x":0.875,"y":0.72,"v":0.2},{"x":0.875,"y":0.74,"v":0.15},{"x":0.875,"y":0.76,"v":0.1},{"x":0.875,"y":0.78,"v":0.05},
{"x":0.9,"y":0.42,"v":0.04},{"x":0.9,"y":0.44,"v":0.08},{"x":0.9,"y":0.46,"v":0.12},{"x":0.9,"y":0.48,"v":0.16},{"x":0.9,"y":0.5,"v":0.2},{"x":0.9,"y":0.52,"v":0.24},{"x":0.9,"y":0.54,"v":0.28},{"x":0.9,"y":0.56,"v":0.32},{"x":0.9,"y":0.58,"v":0.36},{"x":0.9,"y":0.6,"v":0.4},{"x":0.9,"y":0.62,"v":0.36},{"x":0.9,"y":0.64,"v":0.32},{"x":0.9,"y":0.66,"v":0.28},{"x":0.9,"y":0.68,"v":0.24},{"x":0.9,"y":0.7,"v":0.2},{"x":0.9,"y":0.72,"v":0.16},{"x":0.9,"y":0.74,"v":0.12},{"x":0.9,"y":0.76,"v":0.08},{"x":0.9,"y":0.78,"v":0.04},
{"x":0.925,"y":0.42,"v":0.03},{"x":0.925,"y":0.44,"v":0.06},{"x":0.925,"y":0.46,"v":0.09},{"x":0.925,"y":0.48,"v":0.12},{"x":0.925,"y":0.5,"v":0.15},{"x":0.925,"y":0.52,"v":0.18},{"x":0.925,"y":0.54,"v":0.21},{"x":0.925,"y":0.56,"v":0.24},{"x":0.925,"y":0.58,"v":0.27},{"x":0.925,"y":0.6,"v":0.3},{"x":0.925,"y":0.62,"v":0.27},{"x":0.925,"y":0.64,"v":0.24},{"x":0.925,"y":0.66,"v":0.21},{"x":0.925,"y":0.68,"v":0.18},{"x":0.925,"y":0.7,"v":0.15},{"x":0.925,"y":0.72,"v":0.12},{"x":0.925,"y":0.74,"v":0.09},{"x":0.925,"y":0.76,"v":0.06},{"x":0.925,"y":0.78,"v":0.03},
{"x":0.95,"y":0.42,"v":0.02},{"x":0.95,"y":0.44,"v":0.04},{"x":0.95,"y":0.46,"v":0.06},{"x":0.95,"y":0.48,"v":0.08},{"x":0.95,"y":0.5,"v":0.1},{"x":0.95,"y":0.52,"v":0.12},{"x":0.95,"y":0.54,"v":0.14},{"x":0.95,"y":0.56,"v":0.16},{"x":0.95,"y":0.58,"v":0.18},{"x":0.95,"y":0.6,"v":0.2},{"x":0.95,"y":0.62,"v":0.18},{"x":0.95,"y":0.64,"v":0.16},{"x":0.95,"y":0.66,"v":0.14},{"x":0.95,"y":0.68,"v":0.12},{"x":0.95,"y":0.7,"v":0.1},{"x":0.95,"y":0.72,"v":0.08},{"x":0.95,"y":0.74,"v":0.06},{"x":0.95,"y":0.76,"v":0.04},{"x":0.95,"y":0.78,"v":0.02},
{"x":0.975,"y":0.42,"v":0.01},{"x":0.975,"y":0.44,"v":0.02},{"x":0.975,"y":0.46,"v":0.03},{"x":0.975,"y":0.48,"v":0.04},{"x":0.975,"y":0.5,"v":0.05},{"x":0.975,"y":0.52,"v":0.06},{"x":0.975,"y":0.54,"v":0.07},{"x":0.975,"y":0.56,"v":0.08},{"x":0.975,"y":0.58,"v":0.09},{"x":0.975,"y":0.6,"v":0.1},{"x":0.975,"y":0.62,"v":0.09},{"x":0.975,"y":0.64,"v":0.08},{"x":0.975,"y":0.66,"v":0.07},{"x":0.975,"y":0.68,"v":0.06},{"x":0.975,"y":0.7,"v":0.05},{"x":0.975,"y":0.72,"v":0.04},{"x":0.975,"y":0.74,"v":0.03},{"x":0.975,"y":0.76,"v":0.02},{"x":0.975,"y":0.78,"v":0.01}
],
"d":[
{"x":0.275,"y":0.82,"v":0.01},{"x":0.275,"y":0.84,"v":0.02},{"x":0.275,"y":0.86,"v":0.03},{"x":0.275,"y":0.88,"v":0.04},{"x":0.275,"y":0.9,"v":0.05},{"x":0.275,"y":0.92,"v":0.06},{"x":0.275,"y":0.94,"v":0.07},{"x":0.275,"y":0.96,"v":0.08},{"x":0.275,"y":0.98,"v":0.09},{"x":0.275,"y":1,"v":0.1},
{"x":0.3,"y":0.82,"v":0.02},{"x":0.3,"y":0.84,"v":0.04},{"x":0.3,"y":0.86,"v":0.06},{"x":0.3,"y":0.88,"v":0.08},{"x":0.3,"y":0.9,"v":0.1},{"x":0.3,"y":0.92,"v":0.12},{"x":0.3,"y":0.94,"v":0.14},{"x":0.3,"y":0.96,"v":0.16},{"x":0.3,"y":0.98,"v":0.18},{"x":0.3,"y":1,"v":0.2},
{"x":0.325,"y":0.82,"v":0.03},{"x":0.325,"y":0.84,"v":0.06},{"x":0.325,"y":0.86,"v":0.09},{"x":0.325,"y":0.88,"v":0.12},{"x":0.325,"y":0.9,"v":0.15},{"x":0.325,"y":0.92,"v":0.18},{"x":0.325,"y":0.94,"v":0.21},{"x":0.325,"y":0.96,"v":0.24},{"x":0.325,"y":0.98,"v":0.27},{"x":0.325,"y":1,"v":0.3},
{"x":0.35,"y":0.82,"v":0.04},{"x":0.35,"y":0.84,"v":0.08},{"x":0.35,"y":0.86,"v":0.12},{"x":0.35,"y":0.88,"v":0.16},{"x":0.35,"y":0.9,"v":0.2},{"x":0.35,"y":0.92,"v":0.24},{"x":0.35,"y":0.94,"v":0.28},{"x":0.35,"y":0.96,"v":0.32},{"x":0.35,"y":0.98,"v":0.36},{"x":0.35,"y":1,"v":0.4},
{"x":0.375,"y":0.82,"v":0.05},{"x":0.375,"y":0.84,"v":0.1},{"x":0.375,"y":0.86,"v":0.15},{"x":0.375,"y":0.88,"v":0.2},{"x":0.375,"y":0.9,"v":0.25},{"x":0.375,"y":0.92,"v":0.3},{"x":0.375,"y":0.94,"v":0.35},{"x":0.375,"y":0.96,"v":0.4},{"x":0.375,"y":0.98,"v":0.45},{"x":0.375,"y":1,"v":0.5},
{"x":0.4,"y":0.82,"v":0.06},{"x":0.4,"y":0.84,"v":0.12},{"x":0.4,"y":0.86,"v":0.18},{"x":0.4,"y":0.88,"v":0.24},{"x":0.4,"y":0.9,"v":0.3},{"x":0.4,"y":0.92,"v":0.36},{"x":0.4,"y":0.94,"v":0.42},{"x":0.4,"y":0.96,"v":0.48},{"x":0.4,"y":0.98,"v":0.54},{"x":0.4,"y":1,"v":0.6},
{"x":0.425,"y":0.82,"v":0.07},{"x":0.425,"y":0.84,"v":0.14},{"x":0.425,"y":0.86,"v":0.21},{"x":0.425,"y":0.88,"v":0.28},{"x":0.425,"y":0.9,"v":0.35},{"x":0.425,"y":0.92,"v":0.42},{"x":0.425,"y":0.94,"v":0.49},{"x":0.425,"y":0.96,"v":0.56},{"x":0.425,"y":0.98,"v":0.63},{"x":0.425,"y":1,"v":0.7},
{"x":0.45,"y":0.82,"v":0.08},{"x":0.45,"y":0.84,"v":0.16},{"x":0.45,"y":0.86,"v":0.24},{"x":0.45,"y":0.88,"v":0.32},{"x":0.45,"y":0.9,"v":0.4},{"x":0.45,"y":0.92,"v":0.48},{"x":0.45,"y":0.94,"v":0.56},{"x":0.45,"y":0.96,"v":0.64},{"x":0.45,"y":0.98,"v":0.72},{"x":0.45,"y":1,"v":0.8},
{"x":0.475,"y":0.82,"v":0.09},{"x":0.475,"y":0.84,"v":0.18},{"x":0.475,"y":0.86,"v":0.27},{"x":0.475,"y":0.88,"v":0.36},{"x":0.475,"y":0.9,"v":0.45},{"x":0.475,"y":0.92,"v":0.54},{"x":0.475,"y":0.94,"v":0.63},{"x":0.475,"y":0.96,"v":0.72},{"x":0.475,"y":0.98,"v":0.81},{"x":0.475,"y":1,"v":0.9},
{"x":0.5,"y":0.82,"v":0.1},{"x":0.5,"y":0.84,"v":0.2},{"x":0.5,"y":0.86,"v":0.3},{"x":0.5,"y":0.88,"v":0.4},{"x":0.5,"y":0.9,"v":0.5},{"x":0.5,"y":0.92,"v":0.6},{"x":0.5,"y":0.94,"v":0.7},{"x":0.5,"y":0.96,"v":0.8},{"x":0.5,"y":0.98,"v":0.9},{"x":0.5,"y":1,"v":1},
{"x":0.525,"y":0.82,"v":0.09},{"x":0.525,"y":0.84,"v":0.18},{"x":0.525,"y":0.86,"v":0.27},{"x":0.525,"y":0.88,"v":0.36},{"x":0.525,"y":0.9,"v":0.45},{"x":0.525,"y":0.92,"v":0.54},{"x":0.525,"y":0.94,"v":0.63},{"x":0.525,"y":0.96,"v":0.72},{"x":0.525,"y":0.98,"v":0.81},{"x":0.525,"y":1,"v":0.9},
{"x":0.55,"y":0.82,"v":0.08},{"x":0.55,"y":0.84,"v":0.16},{"x":0.55,"y":0.86,"v":0.24},{"x":0.55,"y":0.88,"v":0.32},{"x":0.55,"y":0.9,"v":0.4},{"x":0.55,"y":0.92,"v":0.48},{"x":0.55,"y":0.94,"v":0.56},{"x":0.55,"y":0.96,"v":0.64},{"x":0.55,"y":0.98,"v":0.72},{"x":0.55,"y":1,"v":0.8},
{"x":0.575,"y":0.82,"v":0.07},{"x":0.575,"y":0.84,"v":0.14},{"x":0.575,"y":0.86,"v":0.21},{"x":0.575,"y":0.88,"v":0.28},{"x":0.575,"y":0.9,"v":0.35},{"x":0.575,"y":0.92,"v":0.42},{"x":0.575,"y":0.94,"v":0.49},{"x":0.575,"y":0.96,"v":0.56},{"x":0.575,"y":0.98,"v":0.63},{"x":0.575,"y":1,"v":0.7},
{"x":0.6,"y":0.82,"v":0.06},{"x":0.6,"y":0.84,"v":0.12},{"x":0.6,"y":0.86,"v":0.18},{"x":0.6,"y":0.88,"v":0.24},{"x":0.6,"y":0.9,"v":0.3},{"x":0.6,"y":0.92,"v":0.36},{"x":0.6,"y":0.94,"v":0.42},{"x":0.6,"y":0.96,"v":0.48},{"x":0.6,"y":0.98,"v":0.54},{"x":0.6,"y":1,"v":0.6},
{"x":0.625,"y":0.82,"v":0.05},{"x":0.625,"y":0.84,"v":0.1},{"x":0.625,"y":0.86,"v":0.15},{"x":0.625,"y":0.88,"v":0.2},{"x":0.625,"y":0.9,"v":0.25},{"x":0.625,"y":0.92,"v":0.3},{"x":0.625,"y":0.94,"v":0.35},{"x":0.625,"y":0.96,"v":0.4},{"x":0.625,"y":0.98,"v":0.45},{"x":0.625,"y":1,"v":0.5},
{"x":0.65,"y":0.82,"v":0.04},{"x":0.65,"y":0.84,"v":0.08},{"x":0.65,"y":0.86,"v":0.12},{"x":0.65,"y":0.88,"v":0.16},{"x":0.65,"y":0.9,"v":0.2},{"x":0.65,"y":0.92,"v":0.24},{"x":0.65,"y":0.94,"v":0.28},{"x":0.65,"y":0.96,"v":0.32},{"x":0.65,"y":0.98,"v":0.36},{"x":0.65,"y":1,"v":0.4},
{"x":0.675,"y":0.82,"v":0.03},{"x":0.675,"y":0.84,"v":0.06},{"x":0.675,"y":0.86,"v":0.09},{"x":0.675,"y":0.88,"v":0.12},{"x":0.675,"y":0.9,"v":0.15},{"x":0.675,"y":0.92,"v":0.18},{"x":0.675,"y":0.94,"v":0.21},{"x":0.675,"y":0.96,"v":0.24},{"x":0.675,"y":0.98,"v":0.27},{"x":0.675,"y":1,"v":0.3},
{"x":0.7,"y":0.82,"v":0.02},{"x":0.7,"y":0.84,"v":0.04},{"x":0.7,"y":0.86,"v":0.06},{"x":0.7,"y":0.88,"v":0.08},{"x":0.7,"y":0.9,"v":0.1},{"x":0.7,"y":0.92,"v":0.12},{"x":0.7,"y":0.94,"v":0.14},{"x":0.7,"y":0.96,"v":0.16},{"x":0.7,"y":0.98,"v":0.18},{"x":0.7,"y":1,"v":0.2},
{"x":0.725,"y":0.82,"v":0.01},{"x":0.725,"y":0.84,"v":0.02},{"x":0.725,"y":0.86,"v":0.03},{"x":0.725,"y":0.88,"v":0.04},{"x":0.725,"y":0.9,"v":0.05},{"x":0.725,"y":0.92,"v":0.06},{"x":0.725,"y":0.94,"v":0.07},{"x":0.725,"y":0.96,"v":0.08},{"x":0.725,"y":0.98,"v":0.09},{"x":0.725,"y":1,"v":0.1}
]
},
"concat":[
{"width":293,"height":256,"title":{"text":"B−spline (5,3)"},"resolve":{"scale":{"y":"independent"}},
"layer":[
{"layer":[
{"data":{"values":[{}]},"mark":{"type":"rect","fill":"#E4E4E4"},"encoding":{"x":{"datum":0,"type":"quantitative","scale":{"domain":[-0.075,1.075],"nice":false,"zero":false},"axis":{"title":null,"values":[0,0.2,0.4,0.6,0.8,1],"format":".1f","tickSize":8,"labelPadding":8,"labelFlush":false}},"x2":{"datum":1},"y":{"datum":0,"type":"quantitative","scale":{"domain":[0,1],"nice":false,"zero":false},"axis":{"title":null,"values":[0,0.2,0.4,0.6,0.8,1],"format":".1f","labelAngle":-90,"tickSize":8,"labelPadding":9,"labelFlush":false}},"y2":{"datum":1}}},
{"data":{"name":"a"},"mark":{"type":"rect","width":6.6,"height":5.4,"clip":true},"encoding":{"x":{"field":"x","type":"quantitative","scale":{"domain":[-0.075,1.075],"nice":false,"zero":false},"axis":{"title":null,"values":[0,0.2,0.4,0.6,0.8,1],"format":".1f","tickSize":8,"labelPadding":8,"labelFlush":false}},"y":{"field":"y","type":"quantitative","scale":{"domain":[0,1],"nice":false,"zero":false},"axis":{"title":null,"values":[0,0.2,0.4,0.6,0.8,1],"format":".1f","labelAngle":-90,"tickSize":8,"labelPadding":9,"labelFlush":false}},"color":{"field":"v","type":"quantitative","legend":null,"scale":{"domain":[0,0.04,0.1,0.16,0.22,0.26,0.3,0.34,0.39,0.43,0.49,0.52,0.6,0.68,0.75,0.86,0.94,1],"range":["#EEE6F6","#DCC4F4","#B060F4","#8A10FF","#3000FF","#0000FF","#0030C0","#008070","#00D020","#00FF00","#E0FF00","#FFF000","#FFA000","#FF4000","#FF0000","#A00000","#400000","#000000"],"interpolate":"rgb"}}}},
{"data":{"values":[{}]},"mark":{"type":"rect","fill":"white"},"encoding":{"x":{"datum":1,"type":"quantitative","scale":{"domain":[-0.075,1.075],"nice":false,"zero":false},"axis":{"title":null,"values":[0,0.2,0.4,0.6,0.8,1],"format":".1f","tickSize":8,"labelPadding":8,"labelFlush":false}},"x2":{"datum":1.075},"y":{"datum":0,"type":"quantitative","scale":{"domain":[0,1],"nice":false,"zero":false},"axis":{"title":null,"values":[0,0.2,0.4,0.6,0.8,1],"format":".1f","labelAngle":-90,"tickSize":8,"labelPadding":9,"labelFlush":false}},"y2":{"datum":1}}}
]},
{"layer":[
{"data":{"name":"bar"},"mark":{"type":"rect","height":2.8},"encoding":{"x":{"datum":1.1377,"type":"quantitative","scale":{"domain":[-0.075,1.075],"nice":false,"zero":false},"axis":{"title":null,"values":[0,0.2,0.4,0.6,0.8,1],"format":".1f","tickSize":8,"labelPadding":8,"labelFlush":false}},"x2":{"datum":1.1966},"y":{"field":"v","type":"quantitative","scale":{"domain":[-0.488,1.496],"nice":false,"zero":false},"axis":{"title":null,"orient":"right","offset":31,"values":[0,0.2,0.4,0.6,0.8,1],"format":".1f","tickSize":9,"labelPadding":5,"labelFlush":false}},"color":{"field":"v","type":"quantitative","legend":null,"scale":{"domain":[0,0.04,0.1,0.16,0.22,0.26,0.3,0.34,0.39,0.43,0.49,0.52,0.6,0.68,0.75,0.86,0.94,1],"range":["#EEE6F6","#DCC4F4","#B060F4","#8A10FF","#3000FF","#0000FF","#0030C0","#008070","#00D020","#00FF00","#E0FF00","#FFF000","#FFA000","#FF4000","#FF0000","#A00000","#400000","#000000"],"interpolate":"rgb"}}}},
{"data":{"values":[{}]},"mark":{"type":"rect","fill":null,"stroke":"black","strokeWidth":1},"encoding":{"x":{"datum":1.1377,"type":"quantitative","scale":{"domain":[-0.075,1.075],"nice":false,"zero":false},"axis":{"title":null,"values":[0,0.2,0.4,0.6,0.8,1],"format":".1f","tickSize":8,"labelPadding":8,"labelFlush":false}},"x2":{"datum":1.1966},"y":{"datum":0,"type":"quantitative","scale":{"domain":[-0.488,1.496],"nice":false,"zero":false},"axis":{"title":null,"orient":"right","offset":31,"values":[0,0.2,0.4,0.6,0.8,1],"format":".1f","tickSize":9,"labelPadding":5,"labelFlush":false}},"y2":{"datum":1}}}
]}
]},
{"width":293,"height":256,"title":{"text":"B−spline (2,3)"},"resolve":{"scale":{"y":"independent"}},
"layer":[
{"layer":[
{"data":{"values":[{}]},"mark":{"type":"rect","fill":"#E4E4E4"},"encoding":{"x":{"datum":0,"type":"quantitative","scale":{"domain":[-0.075,1.075],"nice":false,"zero":false},"axis":{"title":null,"values":[0,0.2,0.4,0.6,0.8,1],"format":".1f","tickSize":8,"labelPadding":8,"labelFlush":false}},"x2":{"datum":1},"y":{"datum":0,"type":"quantitative","scale":{"domain":[0,1],"nice":false,"zero":false},"axis":{"title":null,"values":[0,0.2,0.4,0.6,0.8,1],"format":".1f","labelAngle":-90,"tickSize":8,"labelPadding":9,"labelFlush":false}},"y2":{"datum":1}}},
{"data":{"name":"b"},"mark":{"type":"rect","width":6.6,"height":5.4,"clip":true},"encoding":{"x":{"field":"x","type":"quantitative","scale":{"domain":[-0.075,1.075],"nice":false,"zero":false},"axis":{"title":null,"values":[0,0.2,0.4,0.6,0.8,1],"format":".1f","tickSize":8,"labelPadding":8,"labelFlush":false}},"y":{"field":"y","type":"quantitative","scale":{"domain":[0,1],"nice":false,"zero":false},"axis":{"title":null,"values":[0,0.2,0.4,0.6,0.8,1],"format":".1f","labelAngle":-90,"tickSize":8,"labelPadding":9,"labelFlush":false}},"color":{"field":"v","type":"quantitative","legend":null,"scale":{"domain":[0,0.04,0.1,0.16,0.22,0.26,0.3,0.34,0.39,0.43,0.49,0.52,0.6,0.68,0.75,0.86,0.94,1],"range":["#EEE6F6","#DCC4F4","#B060F4","#8A10FF","#3000FF","#0000FF","#0030C0","#008070","#00D020","#00FF00","#E0FF00","#FFF000","#FFA000","#FF4000","#FF0000","#A00000","#400000","#000000"],"interpolate":"rgb"}}}}
]},
{"layer":[
{"data":{"name":"bar"},"mark":{"type":"rect","height":2.8},"encoding":{"x":{"datum":1.1377,"type":"quantitative","scale":{"domain":[-0.075,1.075],"nice":false,"zero":false},"axis":{"title":null,"values":[0,0.2,0.4,0.6,0.8,1],"format":".1f","tickSize":8,"labelPadding":8,"labelFlush":false}},"x2":{"datum":1.1966},"y":{"field":"v","type":"quantitative","scale":{"domain":[-0.488,1.496],"nice":false,"zero":false},"axis":{"title":null,"orient":"right","offset":31,"values":[0,0.2,0.4,0.6,0.8,1],"format":".1f","tickSize":9,"labelPadding":5,"labelFlush":false}},"color":{"field":"v","type":"quantitative","legend":null,"scale":{"domain":[0,0.04,0.1,0.16,0.22,0.26,0.3,0.34,0.39,0.43,0.49,0.52,0.6,0.68,0.75,0.86,0.94,1],"range":["#EEE6F6","#DCC4F4","#B060F4","#8A10FF","#3000FF","#0000FF","#0030C0","#008070","#00D020","#00FF00","#E0FF00","#FFF000","#FFA000","#FF4000","#FF0000","#A00000","#400000","#000000"],"interpolate":"rgb"}}}},
{"data":{"values":[{}]},"mark":{"type":"rect","fill":null,"stroke":"black","strokeWidth":1},"encoding":{"x":{"datum":1.1377,"type":"quantitative","scale":{"domain":[-0.075,1.075],"nice":false,"zero":false},"axis":{"title":null,"values":[0,0.2,0.4,0.6,0.8,1],"format":".1f","tickSize":8,"labelPadding":8,"labelFlush":false}},"x2":{"datum":1.1966},"y":{"datum":0,"type":"quantitative","scale":{"domain":[-0.488,1.496],"nice":false,"zero":false},"axis":{"title":null,"orient":"right","offset":31,"values":[0,0.2,0.4,0.6,0.8,1],"format":".1f","tickSize":9,"labelPadding":5,"labelFlush":false}},"y2":{"datum":1}}}
]}
]},
{"width":293,"height":256,"title":{"text":"B−spline (4,4)"},"resolve":{"scale":{"y":"independent"}},
"layer":[
{"layer":[
{"data":{"values":[{}]},"mark":{"type":"rect","fill":"#E4E4E4"},"encoding":{"x":{"datum":0,"type":"quantitative","scale":{"domain":[-0.075,1.075],"nice":false,"zero":false},"axis":{"title":null,"values":[0,0.2,0.4,0.6,0.8,1],"format":".1f","tickSize":8,"labelPadding":8,"labelFlush":false}},"x2":{"datum":1},"y":{"datum":0,"type":"quantitative","scale":{"domain":[0,1],"nice":false,"zero":false},"axis":{"title":null,"values":[0,0.2,0.4,0.6,0.8,1],"format":".1f","labelAngle":-90,"tickSize":8,"labelPadding":9,"labelFlush":false}},"y2":{"datum":1}}},
{"data":{"name":"c"},"mark":{"type":"rect","width":6.6,"height":5.4,"clip":true},"encoding":{"x":{"field":"x","type":"quantitative","scale":{"domain":[-0.075,1.075],"nice":false,"zero":false},"axis":{"title":null,"values":[0,0.2,0.4,0.6,0.8,1],"format":".1f","tickSize":8,"labelPadding":8,"labelFlush":false}},"y":{"field":"y","type":"quantitative","scale":{"domain":[0,1],"nice":false,"zero":false},"axis":{"title":null,"values":[0,0.2,0.4,0.6,0.8,1],"format":".1f","labelAngle":-90,"tickSize":8,"labelPadding":9,"labelFlush":false}},"color":{"field":"v","type":"quantitative","legend":null,"scale":{"domain":[0,0.04,0.1,0.16,0.22,0.26,0.3,0.34,0.39,0.43,0.49,0.52,0.6,0.68,0.75,0.86,0.94,1],"range":["#EEE6F6","#DCC4F4","#B060F4","#8A10FF","#3000FF","#0000FF","#0030C0","#008070","#00D020","#00FF00","#E0FF00","#FFF000","#FFA000","#FF4000","#FF0000","#A00000","#400000","#000000"],"interpolate":"rgb"}}}}
]},
{"layer":[
{"data":{"name":"bar"},"mark":{"type":"rect","height":2.8},"encoding":{"x":{"datum":1.1377,"type":"quantitative","scale":{"domain":[-0.075,1.075],"nice":false,"zero":false},"axis":{"title":null,"values":[0,0.2,0.4,0.6,0.8,1],"format":".1f","tickSize":8,"labelPadding":8,"labelFlush":false}},"x2":{"datum":1.1966},"y":{"field":"v","type":"quantitative","scale":{"domain":[-0.488,1.496],"nice":false,"zero":false},"axis":{"title":null,"orient":"right","offset":31,"values":[0,0.2,0.4,0.6,0.8,1],"format":".1f","tickSize":9,"labelPadding":5,"labelFlush":false}},"color":{"field":"v","type":"quantitative","legend":null,"scale":{"domain":[0,0.04,0.1,0.16,0.22,0.26,0.3,0.34,0.39,0.43,0.49,0.52,0.6,0.68,0.75,0.86,0.94,1],"range":["#EEE6F6","#DCC4F4","#B060F4","#8A10FF","#3000FF","#0000FF","#0030C0","#008070","#00D020","#00FF00","#E0FF00","#FFF000","#FFA000","#FF4000","#FF0000","#A00000","#400000","#000000"],"interpolate":"rgb"}}}},
{"data":{"values":[{}]},"mark":{"type":"rect","fill":null,"stroke":"black","strokeWidth":1},"encoding":{"x":{"datum":1.1377,"type":"quantitative","scale":{"domain":[-0.075,1.075],"nice":false,"zero":false},"axis":{"title":null,"values":[0,0.2,0.4,0.6,0.8,1],"format":".1f","tickSize":8,"labelPadding":8,"labelFlush":false}},"x2":{"datum":1.1966},"y":{"datum":0,"type":"quantitative","scale":{"domain":[-0.488,1.496],"nice":false,"zero":false},"axis":{"title":null,"orient":"right","offset":31,"values":[0,0.2,0.4,0.6,0.8,1],"format":".1f","tickSize":9,"labelPadding":5,"labelFlush":false}},"y2":{"datum":1}}}
]}
]},
{"width":293,"height":256,"title":{"text":"B−spline (3,6)"},"resolve":{"scale":{"y":"independent"}},
"layer":[
{"layer":[
{"data":{"values":[{}]},"mark":{"type":"rect","fill":"#E4E4E4"},"encoding":{"x":{"datum":0,"type":"quantitative","scale":{"domain":[-0.075,1.075],"nice":false,"zero":false},"axis":{"title":null,"values":[0,0.2,0.4,0.6,0.8,1],"format":".1f","tickSize":8,"labelPadding":8,"labelFlush":false}},"x2":{"datum":1},"y":{"datum":0,"type":"quantitative","scale":{"domain":[0,1],"nice":false,"zero":false},"axis":{"title":null,"values":[0,0.2,0.4,0.6,0.8,1],"format":".1f","labelAngle":-90,"tickSize":8,"labelPadding":9,"labelFlush":false}},"y2":{"datum":1}}},
{"data":{"name":"d"},"mark":{"type":"rect","width":6.6,"height":5.4,"clip":true},"encoding":{"x":{"field":"x","type":"quantitative","scale":{"domain":[-0.075,1.075],"nice":false,"zero":false},"axis":{"title":null,"values":[0,0.2,0.4,0.6,0.8,1],"format":".1f","tickSize":8,"labelPadding":8,"labelFlush":false}},"y":{"field":"y","type":"quantitative","scale":{"domain":[0,1],"nice":false,"zero":false},"axis":{"title":null,"values":[0,0.2,0.4,0.6,0.8,1],"format":".1f","labelAngle":-90,"tickSize":8,"labelPadding":9,"labelFlush":false}},"color":{"field":"v","type":"quantitative","legend":null,"scale":{"domain":[0,0.04,0.1,0.16,0.22,0.26,0.3,0.34,0.39,0.43,0.49,0.52,0.6,0.68,0.75,0.86,0.94,1],"range":["#EEE6F6","#DCC4F4","#B060F4","#8A10FF","#3000FF","#0000FF","#0030C0","#008070","#00D020","#00FF00","#E0FF00","#FFF000","#FFA000","#FF4000","#FF0000","#A00000","#400000","#000000"],"interpolate":"rgb"}}}}
]},
{"layer":[
{"data":{"name":"bar"},"mark":{"type":"rect","height":2.8},"encoding":{"x":{"datum":1.1377,"type":"quantitative","scale":{"domain":[-0.075,1.075],"nice":false,"zero":false},"axis":{"title":null,"values":[0,0.2,0.4,0.6,0.8,1],"format":".1f","tickSize":8,"labelPadding":8,"labelFlush":false}},"x2":{"datum":1.1966},"y":{"field":"v","type":"quantitative","scale":{"domain":[-0.488,1.496],"nice":false,"zero":false},"axis":{"title":null,"orient":"right","offset":31,"values":[0,0.2,0.4,0.6,0.8,1],"format":".1f","tickSize":9,"labelPadding":5,"labelFlush":false}},"color":{"field":"v","type":"quantitative","legend":null,"scale":{"domain":[0,0.04,0.1,0.16,0.22,0.26,0.3,0.34,0.39,0.43,0.49,0.52,0.6,0.68,0.75,0.86,0.94,1],"range":["#EEE6F6","#DCC4F4","#B060F4","#8A10FF","#3000FF","#0000FF","#0030C0","#008070","#00D020","#00FF00","#E0FF00","#FFF000","#FFA000","#FF4000","#FF0000","#A00000","#400000","#000000"],"interpolate":"rgb"}}}},
{"data":{"values":[{}]},"mark":{"type":"rect","fill":null,"stroke":"black","strokeWidth":1},"encoding":{"x":{"datum":1.1377,"type":"quantitative","scale":{"domain":[-0.075,1.075],"nice":false,"zero":false},"axis":{"title":null,"values":[0,0.2,0.4,0.6,0.8,1],"format":".1f","tickSize":8,"labelPadding":8,"labelFlush":false}},"x2":{"datum":1.1966},"y":{"datum":0,"type":"quantitative","scale":{"domain":[-0.488,1.496],"nice":false,"zero":false},"axis":{"title":null,"orient":"right","offset":31,"values":[0,0.2,0.4,0.6,0.8,1],"format":".1f","tickSize":9,"labelPadding":5,"labelFlush":false}},"y2":{"datum":1}}}
]}
]}
],
"columns":2,
"spacing":{"row":89,"column":107},
"bounds":"flush"
}
